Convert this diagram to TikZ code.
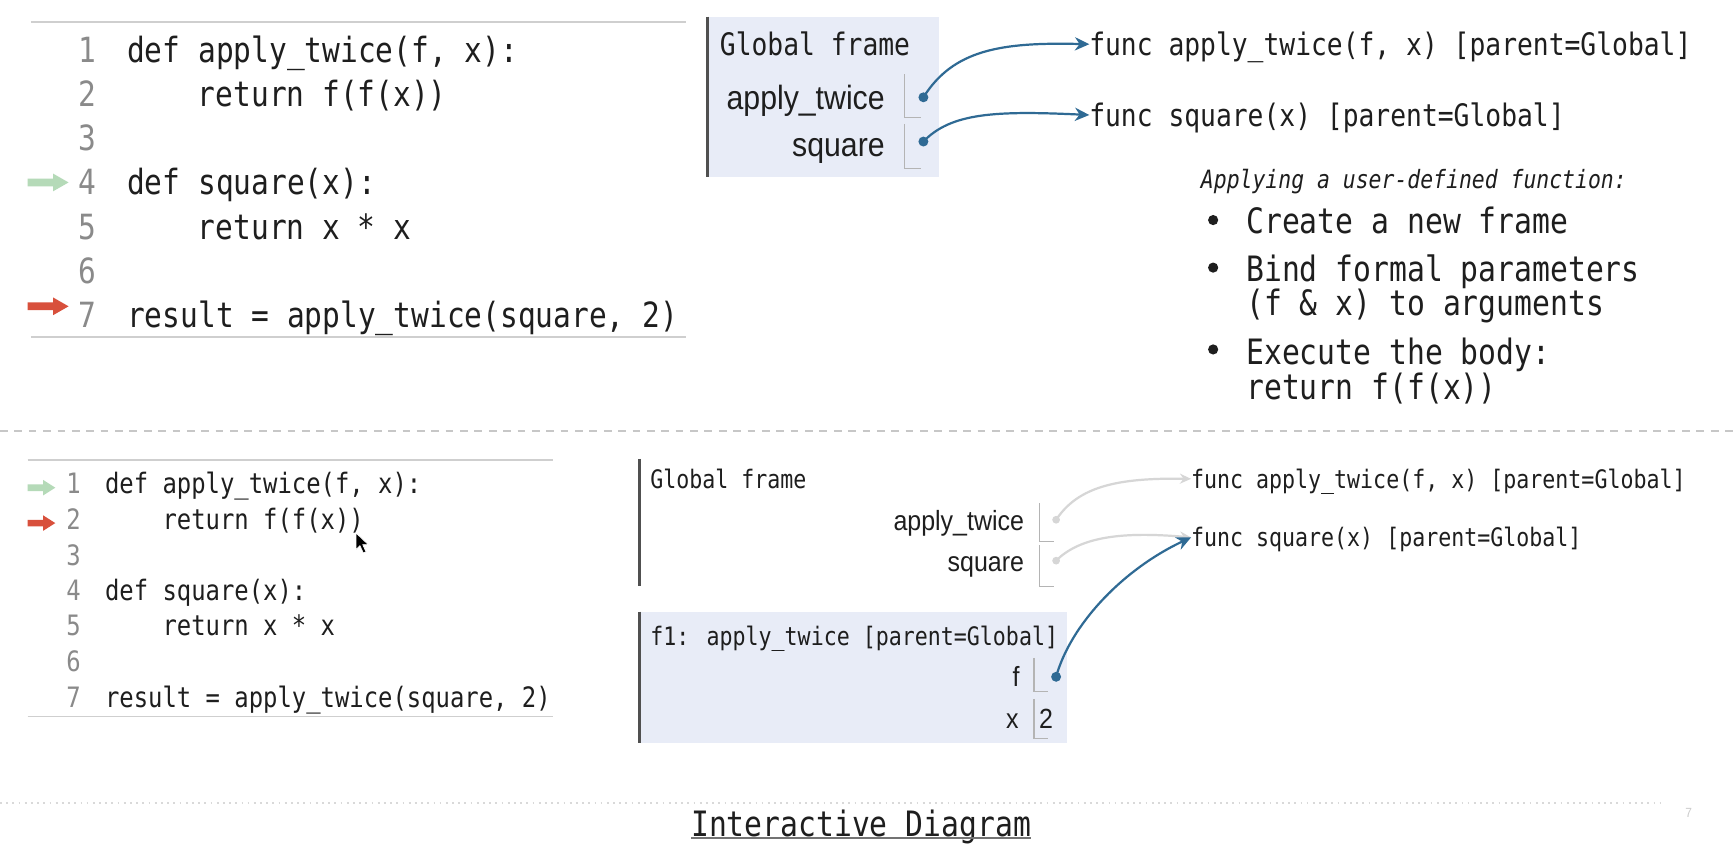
\documentclass[tikz,border=0pt]{standalone}
\usepackage{fontspec}
\usetikzlibrary{arrows.meta}
\newfontfamily\codefont[FakeStretch=0.85, ItalicFont={DejaVu Sans Mono Oblique}]{DejaVu Sans Mono}
\newfontfamily\labfont[FakeStretch=0.9]{Liberation Sans}
\newcommand\cfs[1]{\codefont\fontsize{#1}{#1}\selectfont}
\newcommand\lfs[1]{\labfont\fontsize{#1}{#1}\selectfont}
\definecolor{txt}{HTML}{1E1E1E}
\definecolor{numgray}{HTML}{8A8A8A}
\definecolor{framebg}{HTML}{E8ECF7}
\definecolor{framebd}{HTML}{505050}
\definecolor{cellline}{HTML}{B4B4B4}
\definecolor{ptr}{HTML}{2F6A94}
\definecolor{ptrlight}{HTML}{D6D6D6}
\definecolor{garrow}{HTML}{B5DAB8}
\definecolor{rarrow}{HTML}{D8503C}
\definecolor{rule}{HTML}{CFCFCF}
\begin{document}
\begin{tikzpicture}[x=0.5pt,y=-0.5pt,
  base/.style={inner sep=0pt, outer sep=0pt, text=txt, text depth=0pt},
  codeT/.style={base, anchor=west, font=\cfs{15.7}, text height=11.3pt},
  numT/.style={base, anchor=east, font=\cfs{15.7}, text height=11.3pt, text=numgray},
  codeB/.style={base, anchor=west, font=\cfs{12.7}, text height=9.1pt},
  numB/.style={base, anchor=east, font=\cfs{12.7}, text height=9.1pt, text=numgray},
  frT/.style={base, anchor=west, font=\cfs{14}, text height=10.1pt},
  frB/.style={base, anchor=west, font=\cfs{11.5}, text height=8.3pt},
  labT/.style={base, anchor=east, font=\lfs{15.2}, text height=10.9pt},
  labB/.style={base, anchor=east, font=\lfs{12.55}, text height=9pt},
  ital/.style={base, anchor=west, font=\cfs{11.4}\itshape, text height=8.2pt},
  bul/.style={base, anchor=west, font=\cfs{15.8}, text height=11.4pt},
  bdot/.style={circle, fill=txt, inner sep=0pt, minimum size=4.6pt},
  dotT/.style={circle, fill=ptr, inner sep=0pt, minimum size=4.5pt},
  dotL/.style={circle, fill=ptrlight, inner sep=0pt, minimum size=3.5pt},
  ptrarrow/.style={draw=ptr, line width=1pt, -{Stealth[length=6.5pt,width=6pt]}},
  ptrlightarrow/.style={draw=ptrlight, line width=1pt, -{Stealth[length=5pt,width=4.5pt]}},
  cell/.style={draw=cellline, line width=0.5pt},
  frameborder/.style={draw=framebd, line width=1.3pt},
  coderule/.style={draw=rule, line width=0.8pt}
]
\useasboundingbox (0,0) rectangle (1568,779.5);
\fill[white] (0,0) rectangle (1568,779.5);

% ---------------- top code ----------------
\draw[coderule] (28,20) -- (620,20);
\draw[coderule] (28,305) -- (620,305);
\foreach \i/\y in {1/45,2/85,3/125,4/165,5/205,6/245,7/285}
  \node[numT] (tn\i) at (87,\y) {\i};
\node[codeT] (tc1) at (115,45) {def apply\_twice(f, x):};
\node[codeT] (tc2) at (179,85) {return f(f(x))};
\node[codeT] (tc4) at (115,165) {def square(x):};
\node[codeT] (tc5) at (179,205) {return x * x};
\node[codeT] (tc7) at (115,285) {result = apply\_twice(square, 2)};
% line arrows
\fill[garrow] (25,161.5) -- (48,161.5) -- (48,157) -- (62,165) -- (48,173) -- (48,168.5) -- (25,168.5) -- cycle;
\fill[rarrow] (25,273.5) -- (48,273.5) -- (48,269) -- (62,277) -- (48,285) -- (48,280.5) -- (25,280.5) -- cycle;

% ---------------- top global frame ----------------
\fill[framebg] (640,15) rectangle (849,160);
\draw[frameborder] (640,15) -- (640,160);
\node[frT] (gfT) at (651,40) {Global frame};
\node[labT] (laT) at (800,88) {apply\_twice};
\node[labT] (lsT) at (800,131) {square};
\draw[cell] (818,67) -- (818,106) -- (833,106);
\draw[cell] (818,112) -- (818,152) -- (833,152);
\node[dotT] (daT) at (835,88) {};
\node[dotT] (dsT) at (835,128) {};
\node[frT] (faT) at (985,40) {func apply\_twice(f, x) [parent=Global]};
\node[frT] (fsT) at (985,104) {func square(x) [parent=Global]};
\draw[ptrarrow] (daT.center) .. controls (862,45) and (905,38) .. (faT.west);
\draw[ptrarrow] (dsT.center) .. controls (860,102) and (900,100) .. (fsT.west);

% ---------------- explanation ----------------
\node[ital] (app) at (1086,162) {Applying a user-defined function:};
\node[bdot] (b1) at (1097,199) {};
\node[bdot] (b2) at (1097,242) {};
\node[bdot] (b3) at (1097,316) {};
\node[bul] (x1) at (1127,200) {Create a new frame};
\node[bul] (x2) at (1127,243) {Bind formal parameters};
\node[bul] (x2b) at (1127,274) {(f \& x) to arguments};
\node[bul] (x3) at (1127,318) {Execute the body:};
\node[bul] (x3b) at (1127,350) {return f(f(x))};

% ---------------- separator ----------------
\draw[draw=black!22, line width=1pt, dash pattern=on 3.5pt off 3pt] (0,390) -- (1568,390);

% ---------------- bottom code ----------------
\draw[coderule] (25,416) -- (500,416);
\draw[coderule] (25,648) -- (500,648);
\foreach \i/\y in {1/437,2/470,3/502,4/534,5/566,6/598,7/631}
  \node[numB] (bn\i) at (73,\y) {\i};
\node[codeB] (bc1) at (95,437) {def apply\_twice(f, x):};
\node[codeB] (bc2) at (147,470) {return f(f(x))};
\node[codeB] (bc4) at (95,534) {def square(x):};
\node[codeB] (bc5) at (147,566) {return x * x};
\node[codeB] (bc7) at (95,631) {result = apply\_twice(square, 2)};
\fill[garrow] (25,438) -- (39,438) -- (39,434) -- (50,441) -- (39,448) -- (39,444) -- (25,444) -- cycle;
\fill[rarrow] (25,470) -- (39,470) -- (39,466) -- (50,473) -- (39,480) -- (39,476) -- (25,476) -- cycle;
% mouse cursor
\filldraw[fill=black, draw=white, line width=0.3pt] (322,482) -- (322,497) -- (325.5,493.5) -- (328.5,500) -- (331,499) -- (328,492.5) -- (333,492.5) -- cycle;

% ---------------- bottom global frame ----------------
\draw[frameborder] (578,415) -- (578,530);
\node[frB] (gfB) at (588,433) {Global frame};
\node[labB] (laB) at (926,471) {apply\_twice};
\node[labB] (lsB) at (926,508) {square};
\draw[cell] (940,455) -- (940,490) -- (953,490);
\draw[cell] (940,493) -- (940,530) -- (953,530);
\node[dotL] (daB) at (955,470) {};
\node[dotL] (dsB) at (955,507) {};
\node[frB] (faB) at (1077,433) {func apply\_twice(f, x) [parent=Global]};
\node[frB] (fsB) at (1077,486) {func square(x) [parent=Global]};
\draw[ptrlightarrow] (daB.center) .. controls (975,440) and (1010,432) .. (faB.west);
\draw[ptrlightarrow] (dsB.center) .. controls (975,487) and (1010,480) .. (fsB.west);

% ---------------- f1 frame ----------------
\fill[framebg] (578,553) rectangle (965,672);
\draw[frameborder] (578,553) -- (578,672);
\node[frB] (f1h) at (588,575) {f1: apply\_twice [parent=Global]};
\node[labB] (lf) at (922,612) {f};
\node[labB] (lx) at (921,650) {x};
\draw[cell] (935,595) -- (935,625) -- (948,625);
\draw[cell] (935,632) -- (935,668) -- (948,668);
\node[labB, anchor=center] (v2) at (946,650) {2};
\node[dotT] (df) at (955,612) {};
\draw[ptrarrow] (df.center) .. controls (968,565) and (1015,515) .. (fsB.west);

% ---------------- footer ----------------
\draw[draw=black!15, line width=0.8pt, dotted] (0,726) -- (1505,726);
\node[bul] (title) at (625,745) {Interactive Diagram};
\draw[draw=black!55, line width=1pt] (title.south west |- 0,758) -- (title.south east |- 0,758);
\node[base, font=\lfs{6}, text=black!20] (pg) at (1527,735) {7};
\end{tikzpicture}
\end{document}
